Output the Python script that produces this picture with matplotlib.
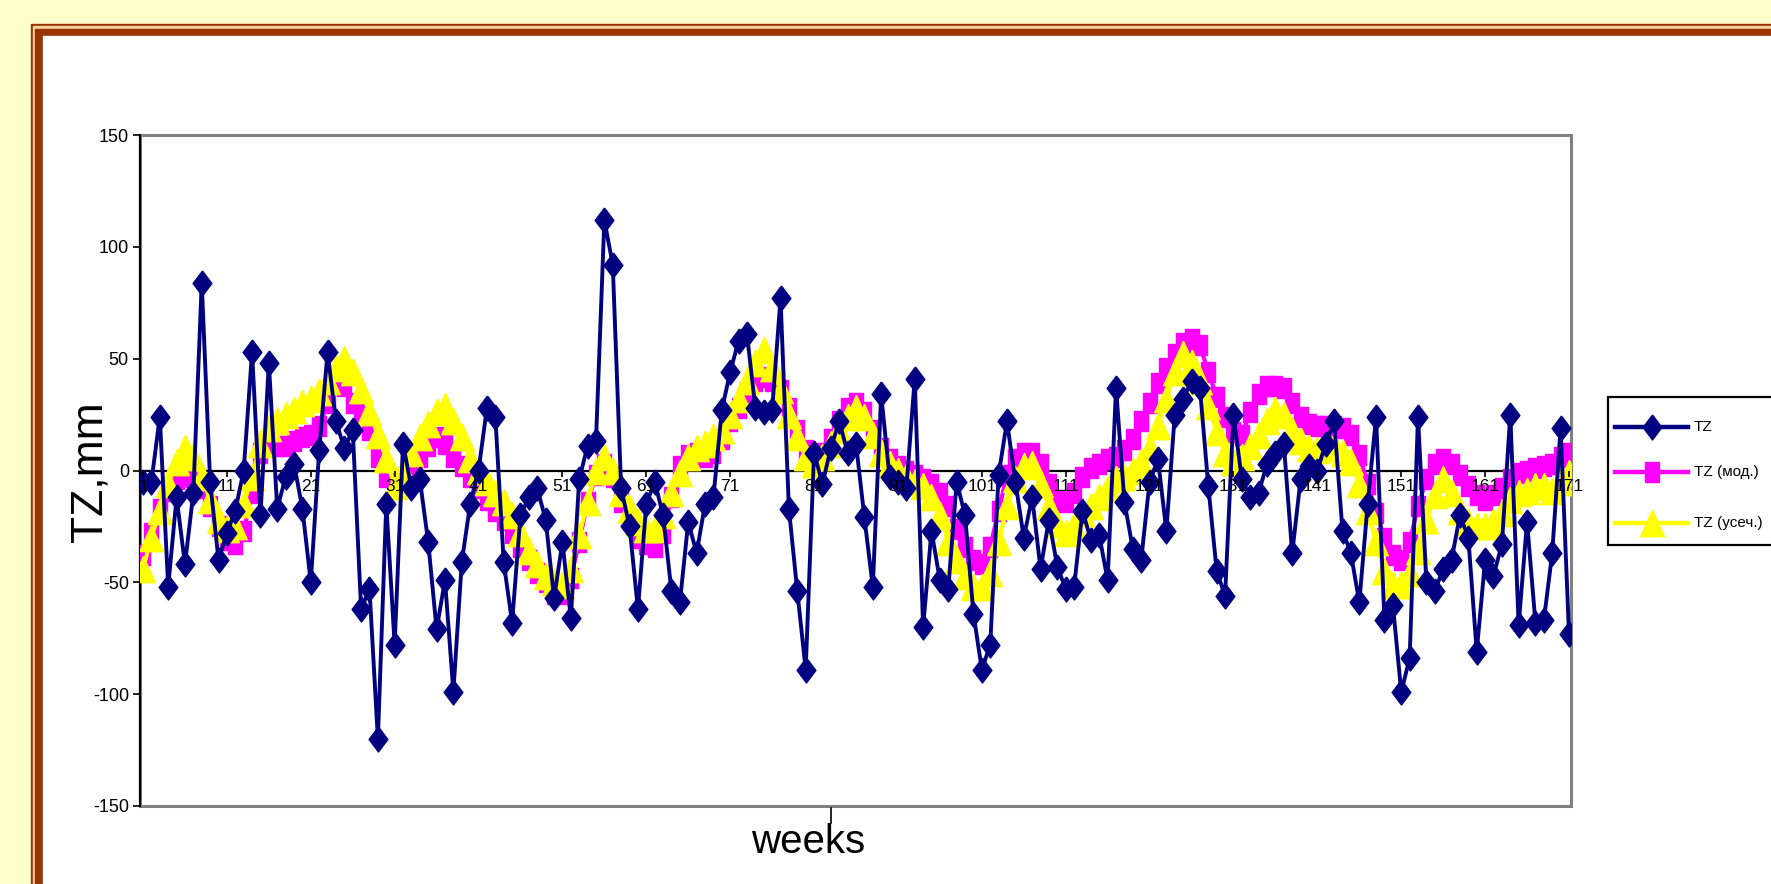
import numpy as np
import matplotlib
matplotlib.use("Agg")
import matplotlib.pyplot as plt
from matplotlib.patches import Rectangle
from matplotlib.lines import Line2D

weeks = np.arange(1, 172)

tz = [-5, -5, 24, -52, -12, -42, -10, 84, -5, -40,
      -28, -18, 0, 53, -20, 48, -17, -3, 3, -17,
      -50, 9, 53, 22, 10, 18, -62, -53, -120, -15,
      -78, 12, -8, -4, -32, -71, -49, -99, -41, -15,
      0, 28, 24, -41, -68, -20, -12, -8, -22, -57,
      -32, -66, -4, 11, 13, 112, 92, -8, -25, -62,
      -15, -5, -20, -54, -59, -23, -37, -15, -12, 27,
      44, 58, 61, 28, 26, 27, 77, -17, -54, -89,
      8, -6, 10, 22, 8, 12, -21, -52, 34, -3,
      -5, -8, 41, -70, -27, -49, -53, -5, -20, -64,
      -89, -78, -2, 22, -5, -30, -12, -44, -22, -43,
      -53, -52, -18, -31, -29, -49, 37, -14, -35, -40,
      -5, 5, -27, 25, 32, 40, 37, -7, -45, -56,
      25, -4, -12, -10, 3, 8, 12, -37, -4, 2,
      0, 12, 22, -27, -37, -59, -15, 24, -67, -60,
      -99, -84, 24, -50, -54, -44, -40, -20, -30, -81,
      -40, -47, -33, 25, -69, -23, -68, -67, -37, 19,
      -73]

tz_mod = [-38, -28, -17, -9, -4, -2, -3, -8, -16, -25,
          -31, -33, -27, -10, 8, 11, 11, 11, 13, 15,
          16, 20, 30, 42, 38, 30, 26, 18, 6, -3,
          -7, -5, 0, 6, 11, 15, 12, 6, 2, -3,
          -8, -13, -18, -22, -28, -34, -40, -46, -50, -55,
          -55, -48, -32, -14, -2, 3, -3, -14, -22, -30,
          -33, -34, -28, -12, 2, 7, 8, 6, 8, 14,
          22, 28, 35, 40, 42, 40, 36, 28, 18, 9,
          6, 8, 14, 22, 28, 30, 26, 18, 10, 5,
          2, 0, -2, -4, -6, -10, -16, -26, -34, -40,
          -42, -34, -18, -2, 5, 8, 8, 3, -6, -13,
          -14, -10, -3, 1, 3, 5, 6, 9, 14, 22,
          30, 39, 46, 52, 57, 59, 56, 44, 33, 24,
          17, 16, 26, 34, 38, 38, 37, 30, 24, 21,
          20, 20, 20, 19, 16, 7, -6, -19, -30, -38,
          -40, -32, -16, -4, 3, 5, 3, -2, -7, -11,
          -13, -11, -8, -4, -1, 0, 1, 2, 3, 6,
          8]

tz_usech = [-44, -30, -18, -6, 4, 10, 6, -3, -13, -22,
            -26, -25, -15, -3, 12, 19, 22, 25, 27, 30,
            32, 35, 40, 46, 50, 44, 36, 26, 16, 5,
            -7, 0, 8, 15, 21, 26, 29, 22, 15, 5,
            0, -5, -10, -14, -20, -28, -36, -42, -47, -50,
            -51, -44, -29, -14, 0, 6, 0, -10, -17, -23,
            -26, -26, -20, -10, -1, 6, 10, 12, 15, 18,
            25, 32, 40, 48, 54, 46, 36, 25, 15, 6,
            3, 6, 12, 18, 24, 28, 24, 16, 8, 3,
            0, -3, -5, -7, -12, -20, -32, -40, -47, -52,
            -52, -46, -32, -16, -4, 2, 3, -6, -16, -24,
            -28, -25, -19, -16, -12, -8, -4, -3, 0, 4,
            10, 20, 32, 44, 52, 48, 40, 29, 17, 8,
            4, 6, 11, 16, 22, 27, 25, 18, 13, 10,
            9, 10, 11, 8, 4, -6, -18, -32, -45, -51,
            -51, -46, -36, -22, -11, -4, -10, -18, -23, -25,
            -25, -23, -19, -13, -10, -9, -7, -7, -9, -5,
            -1]

series_labels = ["TZ", "TZ (мод.)", "TZ (усеч.)"]
x_ticks = list(range(1, 172, 10))
y_ticks = list(range(-150, 151, 50))

plt.rcParams["font.family"] = ["Liberation Sans", "DejaVu Sans"]
plt.rcParams["axes.unicode_minus"] = False

W, H = 1771, 884
fig = plt.figure(figsize=(W / 100, H / 100), dpi=100, facecolor="#FFFFCC")


def fx(x):
    return x / W


def fy(y):
    return 1 - y / H


# tall markers: the original chart is stretched vertically
diamond = [(0, 1), (0.75, 0), (0, -1), (-0.75, 0), (0, 1)]
square = [(-0.75, -1), (0.75, -1), (0.75, 1), (-0.75, 1), (-0.75, -1)]
triangle = [(0, 1), (0.9, -1), (-0.9, -1), (0, 1)]

# brown frame around the slide
for x0, y0, col in [(31, 24, "#993300"), (33, 26, "#F2D3A0"),
                    (35, 29, "#993300"), (43, 36, "white")]:
    fig.patches.append(Rectangle((fx(x0), -0.1), 1.2, fy(y0) + 0.1,
                                 transform=fig.transFigure, color=col, zorder=-5))

ax = fig.add_axes([fx(140), fy(806), fx(1571 - 140), (806 - 135) / H])
ax.set_zorder(1)
ax.set_facecolor("white")

navy, mag, yel = "#000080", "#FF00FF", "#FFFF00"
ax.plot(weeks, tz_mod, color=mag, marker=square, ms=14, mec=mag, lw=3, zorder=3)
ax.plot(weeks, tz_usech, color=yel, marker=triangle, ms=19, mec=yel, lw=3, zorder=3.2)
ax.plot(weeks, tz, color=navy, marker=diamond, ms=18, mec=navy, lw=2.8, zorder=3.4)

ax.set_xlim(0.64, 171.24)
ax.set_ylim(-150, 150)

ax.add_patch(Rectangle((0, 0), 1, 1, transform=ax.transAxes, fill=False,
                       edgecolor="#808080", lw=2.2, clip_on=False, zorder=0.9))
for s in ["top", "right"]:
    ax.spines[s].set_visible(False)
ax.spines["left"].set_color("black")
ax.spines["left"].set_linewidth(1.6)
ax.spines["left"].set_zorder(1)
ax.spines["bottom"].set_position(("data", 0))
ax.spines["bottom"].set_color("black")
ax.spines["bottom"].set_linewidth(1.6)
ax.spines["bottom"].set_zorder(1)

ax.set_xticks(x_ticks)
ax.set_yticks(y_ticks)
ax.tick_params(axis="x", direction="out", length=4, width=1.2, pad=2, labelsize=12.5)
ax.tick_params(axis="y", direction="out", length=5, width=1.2, pad=3, labelsize=13)
ax.xaxis.set_zorder(5)

fig.text(fx(90), fy(472), "TZ,mm", rotation=90, ha="center", va="center", fontsize=32)
fig.text(fx(808), fy(842), "weeks", ha="center", va="center", fontsize=29)
fig.add_artist(Line2D([fx(831)] * 2, [fy(808), fy(823)], color="black", lw=1.2))

# legend, cut by the right edge as in the original
fig.patches.append(Rectangle((fx(1608), fy(545)), 0.2, fy(397) - fy(545),
                             transform=fig.transFigure, facecolor="white",
                             edgecolor="black", lw=1.6, zorder=2))
for lab, col, mk, ms, y in zip(series_labels, [navy, mag, yel], [diamond, square, triangle],
                               [18, 14, 19], [427, 472, 523]):
    fig.add_artist(Line2D([fx(1615), fx(1688)], [fy(y)] * 2, color=col, lw=3.2, zorder=3))
    fig.add_artist(Line2D([fx(1652)], [fy(y)], marker=mk, ms=ms, color=col, mec=col, zorder=3))
    fig.text(fx(1694), fy(y), lab, va="center", fontsize=11, zorder=3)

fig.savefig("out.png", dpi=100, facecolor=fig.get_facecolor())
